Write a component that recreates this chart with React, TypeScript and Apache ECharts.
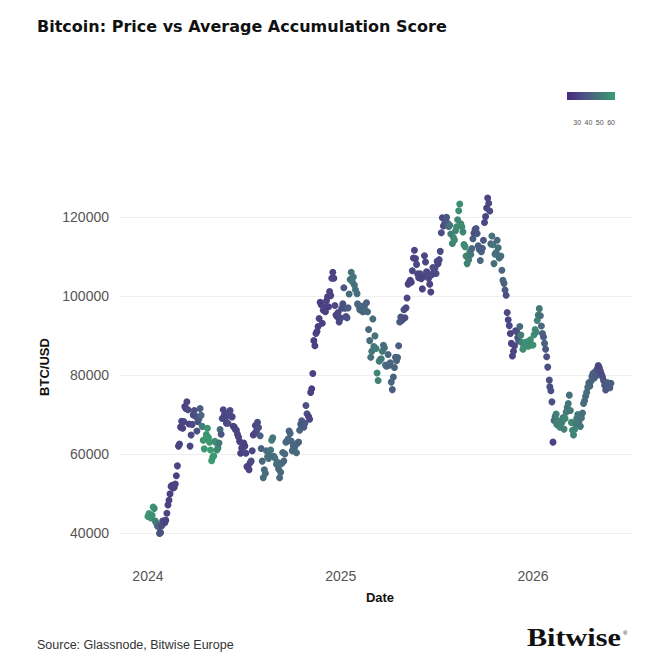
import React, { useEffect, useRef } from "react";
import * as echarts from "echarts";

// Monthly buckets; each month holds prices (thousand USD) sampled at even steps through the month
const months = [
  "2024-01", "2024-02", "2024-03", "2024-04", "2024-05", "2024-06",
  "2024-07", "2024-08", "2024-09", "2024-10", "2024-11", "2024-12",
  "2025-01", "2025-02", "2025-03", "2025-04", "2025-05", "2025-06",
  "2025-07", "2025-08", "2025-09", "2025-10", "2025-11", "2025-12",
  "2026-01", "2026-02", "2026-03", "2026-04", "2026-05",
];

const priceK: number[][] = [
  [44.2, 44.9, 44.0, 43.8, 44.5, 46.6, 46.2, 43.0, 42.5, 41.8, 41.6, 39.9, 40.1, 41.8, 43.0],
  [43.1, 42.6, 43.2, 45.0, 47.1, 48.3, 49.9, 51.8, 52.1, 51.4, 51.6, 52.4, 54.5, 57.0, 62.0],
  [62.5, 66.8, 68.3, 66.5, 68.2, 72.0, 71.5, 73.2, 71.2, 67.6, 62.0, 64.8, 67.5, 69.9, 71.0],
  [69.5, 65.8, 68.2, 69.0, 71.5, 69.8, 67.0, 63.5, 61.3, 63.8, 64.9, 66.5, 64.2, 63.0, 61.0],
  [58.3, 59.2, 59.5, 63.2, 62.9, 61.0, 61.5, 62.8, 66.2, 65.0, 69.0, 71.2, 69.8, 69.0, 67.8],
  [67.8, 70.5, 71.0, 69.5, 69.4, 67.0, 66.8, 66.2, 66.0, 65.0, 64.3, 63.2, 60.2, 61.5, 61.8],
  [62.8, 62.0, 60.2, 56.8, 56.7, 56.0, 57.8, 58.2, 60.8, 64.8, 65.1, 67.2, 65.8, 68.0, 66.7],
  [64.6, 61.4, 58.2, 54.0, 56.0, 55.1, 60.8, 59.3, 58.9, 59.5, 61.0, 63.5, 64.1, 59.4, 59.0],
  [57.4, 57.9, 56.2, 54.0, 55.4, 57.6, 60.4, 58.2, 60.0, 63.0, 63.2, 63.8, 65.8, 65.2, 63.3],
  [60.8, 62.0, 61.5, 62.2, 60.3, 62.8, 63.0, 66.0, 67.5, 68.4, 67.5, 66.8, 67.8, 72.3, 70.2],
  [69.5, 68.8, 75.6, 76.5, 80.4, 88.7, 87.4, 90.5, 91.0, 92.3, 94.3, 98.4, 97.8, 93.1, 96.4],
  [97.2, 96.0, 98.8, 99.8, 97.3, 101.1, 100.1, 104.5, 106.0, 104.5, 97.6, 95.2, 94.8, 95.8, 93.4],
  [94.4, 96.9, 98.0, 102.1, 96.9, 94.8, 94.5, 97.0, 100.5, 104.2, 106.0, 103.6, 104.8, 102.8, 101.6],
  [100.6, 98.0, 97.6, 96.6, 96.4, 97.4, 96.0, 96.8, 97.5, 96.2, 98.3, 96.0, 91.5, 88.7, 84.5],
  [86.0, 94.2, 87.2, 89.9, 86.7, 80.5, 78.6, 83.5, 83.9, 84.1, 86.0, 87.5, 86.9, 82.5, 82.2],
  [85.2, 82.5, 83.1, 78.2, 76.3, 79.5, 81.9, 84.5, 83.6, 84.4, 87.4, 93.4, 94.7, 93.8, 94.2],
  [96.5, 94.5, 97.0, 99.5, 103.0, 103.5, 104.0, 103.5, 106.4, 109.6, 111.6, 109.5, 108.0, 105.6, 104.6],
  [105.6, 104.4, 101.8, 104.9, 110.2, 108.6, 106.1, 105.9, 104.5, 103.0, 101.0, 105.4, 107.2, 106.0, 107.1],
  [105.7, 108.8, 108.2, 109.2, 111.3, 116.0, 119.8, 117.7, 118.2, 118.5, 119.9, 118.4, 117.6, 117.9, 115.7],
  [113.3, 114.8, 114.2, 116.5, 117.5, 119.3, 121.6, 123.3, 118.3, 117.5, 116.2, 113.0, 112.5, 110.1, 108.2],
  [109.2, 111.2, 110.5, 112.0, 114.5, 115.9, 116.8, 117.1, 115.8, 112.7, 111.8, 109.0, 111.2, 112.1, 114.1],
  [118.6, 120.1, 122.3, 124.8, 123.5, 121.5, 113.2, 115.2, 113.0, 108.2, 110.6, 111.0, 114.1, 112.2, 109.6],
  [110.1, 106.5, 104.0, 103.2, 101.5, 100.2, 95.8, 94.0, 92.5, 90.5, 88.0, 84.8, 86.0, 87.4, 91.2],
  [91.0, 89.4, 88.6, 92.3, 90.1, 88.2, 86.5, 87.3, 88.2, 87.6, 88.4, 87.3, 87.8, 88.9, 87.6],
  [87.6, 90.2, 91.5, 90.9, 93.8, 95.2, 96.8, 95.0, 92.4, 90.5, 89.6, 88.0, 86.5, 84.6, 82.0],
  [78.7, 77.0, 76.0, 73.2, 63.0, 68.5, 69.5, 70.1, 67.5, 68.4, 67.2, 66.8, 67.9, 68.0, 69.2],
  [66.3, 69.0, 70.6, 71.8, 72.8, 74.9, 71.0, 68.0, 66.0, 64.8, 66.2, 67.5, 69.0, 70.0, 67.9],
  [67.0, 69.1, 70.4, 72.8, 73.5, 74.6, 75.6, 76.9, 78.0, 77.2, 78.4, 79.6, 80.4, 79.2, 80.8],
  [79.8, 81.6, 82.4, 81.8, 81.0, 80.2, 79.5, 78.6, 77.4, 76.2, 77.0, 78.0, 77.5, 76.8, 77.9],
];

// Average accumulation score for each sampled day
const scores: number[][] = [
  [60, 61, 60, 59, 58, 60, 57, 55, 50, 47, 44, 38, 36, 34, 33],
  [32, 31, 30, 31, 29, 30, 29, 28, 29, 30, 29, 30, 29, 30, 31],
  [30, 29, 31, 30, 31, 30, 29, 31, 32, 30, 31, 33, 32, 33, 34],
  [34, 35, 36, 38, 40, 44, 52, 58, 61, 62, 60, 59, 61, 60, 62],
  [62, 60, 61, 59, 58, 57, 55, 50, 44, 38, 34, 32, 31, 31, 30],
  [34, 33, 32, 33, 31, 31, 30, 31, 30, 31, 30, 29, 29, 30, 31],
  [30, 29, 30, 29, 31, 30, 30, 32, 31, 32, 30, 31, 33, 34, 35],
  [40, 42, 44, 46, 45, 47, 47, 50, 48, 46, 49, 52, 50, 47, 48],
  [46, 47, 45, 44, 45, 45, 46, 44, 45, 45, 43, 44, 42, 43, 44],
  [44, 43, 45, 44, 45, 44, 43, 42, 41, 40, 38, 40, 39, 36, 35],
  [30, 31, 29, 28, 29, 28, 29, 30, 29, 28, 30, 29, 28, 29, 30],
  [30, 29, 31, 30, 29, 31, 30, 32, 31, 30, 32, 31, 30, 31, 32],
  [32, 33, 34, 38, 35, 33, 35, 40, 45, 47, 48, 50, 49, 47, 48],
  [46, 45, 44, 43, 44, 44, 42, 43, 43, 44, 42, 44, 45, 47, 48],
  [48, 46, 50, 48, 52, 55, 54, 53, 52, 50, 51, 48, 47, 46, 45],
  [44, 42, 43, 44, 40, 42, 43, 42, 44, 43, 40, 38, 37, 38, 36],
  [36, 34, 33, 32, 31, 30, 31, 30, 32, 31, 30, 31, 32, 33, 33],
  [32, 31, 30, 31, 32, 31, 33, 32, 32, 30, 30, 33, 34, 33, 34],
  [32, 33, 31, 32, 33, 34, 33, 35, 34, 36, 38, 40, 44, 48, 52],
  [54, 55, 56, 55, 57, 56, 58, 57, 56, 57, 55, 56, 57, 55, 54],
  [54, 55, 50, 44, 40, 36, 35, 37, 38, 40, 42, 44, 42, 40, 38],
  [32, 31, 30, 31, 32, 33, 42, 48, 50, 46, 48, 47, 45, 47, 46],
  [46, 44, 45, 42, 40, 35, 33, 31, 32, 31, 30, 31, 30, 31, 33],
  [34, 36, 40, 45, 52, 55, 56, 58, 57, 58, 59, 58, 57, 58, 57],
  [58, 57, 56, 55, 54, 52, 50, 46, 44, 42, 40, 42, 38, 36, 35],
  [36, 34, 35, 36, 30, 45, 50, 53, 55, 54, 52, 54, 55, 53, 52],
  [53, 55, 52, 51, 50, 48, 50, 55, 56, 54, 55, 52, 50, 50, 51],
  [50, 48, 47, 46, 46, 45, 47, 46, 44, 45, 43, 42, 41, 42, 40],
  [40, 36, 32, 31, 33, 34, 35, 36, 37, 38, 38, 40, 39, 40, 41],
];

const yTicks = [40000, 60000, 80000, 100000, 120000];
const scoreTicks = [30, 40, 50, 60];
const scoreRange = [21, 63.5];
const palette = ["#4a2a7a", "#4b4784", "#4a6280", "#427f76", "#3aa070"];

const FONT = "'Liberation Sans', Arial, Helvetica, sans-serif";

function buildPoints(): [number, number, number][] {
  const pts: [number, number, number][] = [];
  months.forEach((m, mi) => {
    const [y, mo] = m.split("-").map(Number);
    const days = new Date(y, mo, 0).getDate();
    const row = priceK[mi];
    row.forEach((p, i) => {
      const day = 1 + Math.floor((i * days) / row.length);
      pts.push([new Date(y, mo - 1, day).getTime(), p * 1000, scores[mi][i]]);
    });
  });
  return pts;
}

export default function App() {
  const ref = useRef<HTMLDivElement>(null);

  useEffect(() => {
    if (!ref.current) return;
    const chart = echarts.init(ref.current, null, { renderer: "svg" });

    // legend bar geometry
    const barX = 567;
    const barW = 48;
    const valToX = (v: number) =>
      barX + ((v - scoreRange[0]) / (scoreRange[1] - scoreRange[0])) * barW;

    chart.setOption({
      animation: false,
      backgroundColor: "#ffffff",
      textStyle: { fontFamily: FONT },
      grid: [
        // grid holding the labelled price axis and its gridlines
        { left: 120, right: 39, top: 217, bottom: 138, containLabel: false },
        // grid holding the points, padded beyond the labelled range
        { left: 120, right: 39, top: 185.4, bottom: 122.2, containLabel: false },
      ],
      xAxis: [
        { gridIndex: 0, type: "value", min: 0, max: 1, show: false },
        {
          gridIndex: 1,
          type: "time",
          min: new Date(2023, 10, 9).getTime(),
          max: new Date(2026, 6, 8).getTime(),
          axisLine: { show: false },
          axisTick: { show: false },
          splitLine: { show: false },
          axisLabel: {
            color: "#555555",
            fontSize: 14,
            fontFamily: FONT,
            margin: 20,
            showMinLabel: false,
            showMaxLabel: false,
            formatter: (val: number) => {
              const d = new Date(val);
              return d.getMonth() === 0 && d.getDate() === 1 ? String(d.getFullYear()) : "";
            },
          },
        },
      ],
      yAxis: [
        {
          gridIndex: 0,
          type: "value",
          min: yTicks[0],
          max: yTicks[yTicks.length - 1],
          interval: 20000,
          axisLine: { show: false },
          axisTick: { show: false },
          axisLabel: {
            color: "#555555",
            fontSize: 14,
            margin: 11,
            fontFamily: FONT,
            formatter: (v: number) => String(v),
          },
          splitLine: { show: true, lineStyle: { color: "#efefef", width: 1 } },
        },
        { gridIndex: 1, type: "value", min: 36000, max: 128000, show: false },
      ],
      visualMap: {
        show: false,
        type: "continuous",
        dimension: 2,
        seriesIndex: 0,
        min: scoreRange[0],
        max: scoreRange[1],
        inRange: { color: palette },
      },
      series: [
        {
          type: "scatter",
          xAxisIndex: 1,
          yAxisIndex: 1,
          symbolSize: 7,
          itemStyle: { opacity: 1 },
          data: buildPoints(),
          z: 3,
        },
      ],
      graphic: [
        {
          type: "text",
          left: 37,
          top: 18,
          style: {
            text: "Bitcoin: Price vs Average Accumulation Score",
            font: `bold 16px 'DejaVu Sans', ${FONT}`,
            fill: "#111111",
          },
        },
        {
          type: "rect",
          shape: { x: barX, y: 92, width: barW, height: 8 },
          style: {
            fill: new echarts.graphic.LinearGradient(0, 0, 1, 0,
              palette.map((c, i) => ({ offset: i / (palette.length - 1), color: c }))),
          },
        },
        ...scoreTicks.map((t) => ({
          type: "text",
          x: valToX(t),
          y: 122,
          style: {
            text: String(t),
            font: `7px ${FONT}`,
            fill: "#555555",
            align: "center",
            verticalAlign: "middle",
          },
        })),
        {
          type: "text",
          x: 44,
          y: 367,
          rotation: Math.PI / 2,
          style: {
            text: "BTC/USD",
            font: `bold 13px ${FONT}`,
            fill: "#111111",
            align: "center",
            verticalAlign: "middle",
          },
        },
        {
          type: "text",
          x: 380,
          y: 597,
          style: {
            text: "Date",
            font: `bold 13px ${FONT}`,
            fill: "#111111",
            align: "center",
            verticalAlign: "middle",
          },
        },
        {
          type: "text",
          x: 37,
          y: 645,
          style: {
            text: "Source: Glassnode, Bitwise Europe",
            font: `12.5px ${FONT}`,
            fill: "#333333",
            verticalAlign: "middle",
          },
        },
        {
          type: "text",
          x: 527,
          y: 637,
          scaleX: 1.16,
          style: {
            text: "Bitwise",
            font: `bold 26px 'Liberation Serif', 'Times New Roman', serif`,
            fill: "#111111",
            verticalAlign: "middle",
          },
        },
        {
          type: "text",
          x: 623,
          y: 633,
          style: {
            text: "®",
            font: `6px ${FONT}`,
            fill: "#111111",
            verticalAlign: "middle",
          },
        },
      ],
    });

    return () => chart.dispose();
  }, []);

  return <div ref={ref} style={{ width: 671, height: 671, margin: -8 }} />;
}
